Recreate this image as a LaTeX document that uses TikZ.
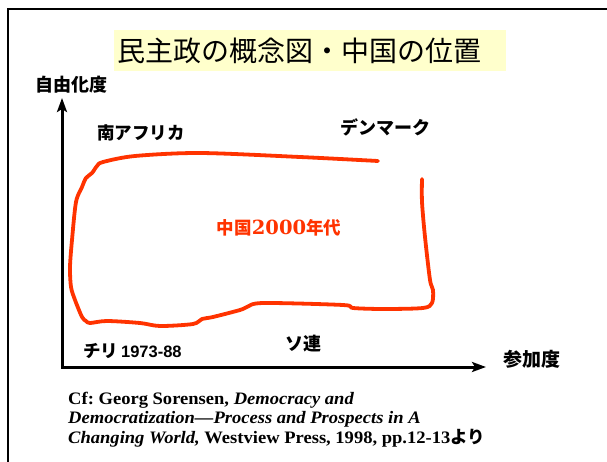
\documentclass[tikz,border=0pt]{standalone}
\usepackage{fontspec}
\setmainfont{Liberation Serif}[FakeStretch=1.06]
\newfontfamily\jp{Noto Sans CJK JP}
\newfontfamily\arialf{Liberation Sans}
\newfontfamily\dvserif{DejaVu Serif}
\usetikzlibrary{arrows.meta}
\definecolor{redc}{HTML}{FF3300}
\definecolor{titley}{HTML}{FFFFCC}
\frenchspacing
\tikzset{
  lbl/.style={inner sep=0pt, text=black, font=\jp\bfseries\fontsize{18}{20}\selectfont},
  axisline/.style={line width=3pt, line join=miter, {Stealth[length=14pt,width=10pt,inset=3pt]}-{Stealth[length=14pt,width=10pt,inset=3pt]}},
  region/.style={redc, line width=3.8pt, line cap=round, line join=round},
  cite/.style={anchor=base west, inner sep=0pt, font=\bfseries\fontsize{17.5}{19}\selectfont}
}
\begin{document}
\begin{tikzpicture}[x=1pt, y=-1pt]
\useasboundingbox (0,0) rectangle (607,462);
% frame
\coordinate (fbl) at (8,462);
\coordinate (ftl) at (8,9);
\coordinate (ftr) at (607,9);
\draw[line width=2.5pt, line join=miter] (fbl) -- (ftl) -- (ftr);
% title
\node (titlebox) [fill=titley, minimum width=392pt, minimum height=41pt, inner sep=0pt] at (309.5,50.5) {};
\node (title) [inner sep=0pt, font=\jp\fontsize{28}{30}\selectfont] at (299,50.5) {民主政の概念図・中国の位置};
% axes
\coordinate (origin) at (62,367);
\coordinate (ytip) at (62,98);
\coordinate (xtip) at (486,367);
\draw[axisline] (ytip) -- (origin) -- (xtip);
% axis labels
\node (ylab) [lbl] at (71,85) {自由化度};
\node (xlab) [lbl, font=\jp\bfseries\fontsize{19}{21}\selectfont] at (532,359) {参加度};
% country labels
\node (safrica) [lbl, font=\jp\bfseries\fontsize{17.5}{20}\selectfont] at (141,133) {南アフリカ};
\node (denmark) [lbl] at (385,127) {デンマーク};
\node (chile) [lbl, anchor=west, font=\jp\bfseries\fontsize{17.5}{20}\selectfont] at (83,351) {チリ\,{\arialf\bfseries\fontsize{16.5}{18}\selectfont 1973-88}};
\node (ussr) [lbl] at (303,344) {ソ連};
\node (china) [lbl, text=redc, font=\jp\bfseries\fontsize{17.5}{20}\selectfont] at (279,228) {中国{\dvserif\bfseries\fontsize{19.5}{20}\selectfont 2000}年代};
% region of China
\draw[region] plot[smooth, tension=0.5] coordinates {
 (378,161) (300,157) (200,153) (135,156) (103,162) (97,166) (92,173) (86,178)
 (82,187) (76,202) (72,240) (70,267) (71,287) (75,300) (82,317) (86,321)
 (90,323) (107,321) (140,323) (160,326) (193,324) (202,319) (213,317)
 (240,310) (247,307) (263,303) (343,305) (353,308) (383,309) (423,308)
 (432,303) (433,290) (430,280) (425,237) (422,202) (422,179)};
% citation
\node (cite1) [cite] at (68,404) {Cf: Georg Sorensen, \textit{Democracy and}};
\node (cite2) [cite] at (68,423.5) {\textit{Democratization---Process and Prospects in A}};
\node (cite3) [cite] at (68,443) {\textit{Changing World,} Westview Press, 1998, pp.12-13{\jp\bfseries より}};
\end{tikzpicture}
\end{document}
